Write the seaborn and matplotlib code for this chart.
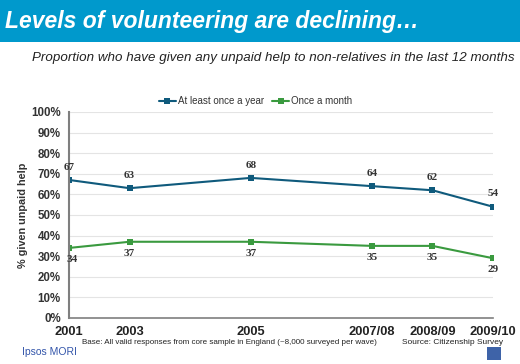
import matplotlib
matplotlib.use('Agg')
import matplotlib.pyplot as plt
import seaborn as sns
import pandas as pd
from matplotlib.patches import Rectangle

# waves of the Citizenship Survey
waves = ['2001', '2003', '2005', '2007/08', '2008/09', '2009/10']
wave_pos = [0, 1, 3, 5, 6, 7]  # spacing used on the original time axis
yearly = [67, 63, 68, 64, 62, 54]
monthly = [34, 37, 37, 35, 35, 29]
series_names = ['At least once a year', 'Once a month']

df = pd.DataFrame({
    'pos': wave_pos * 2,
    'value': yearly + monthly,
    'series': [series_names[0]] * len(waves) + [series_names[1]] * len(waves),
})

sns.set_theme(style='whitegrid')
plt.rcParams['font.family'] = ['Liberation Sans', 'DejaVu Sans']

blue = '#0F5A7C'
green = '#3A9A3F'

fig = plt.figure(figsize=(5.2, 3.64), dpi=100)
fig.patch.set_facecolor('white')

# title banner
fig.patches.append(Rectangle((0, 0.8846), 1, 0.1154, transform=fig.transFigure,
                             facecolor='#0099CC', edgecolor='none', zorder=0))
fig.text(0.01, 0.942, 'Levels of volunteering are declining\u2026', color='white',
         fontsize=16.5, fontweight='bold', fontstyle='italic', va='center', ha='left')
fig.text(0.99, 0.84, 'Proportion who have given any unpaid help to non-relatives in the last 12 months',
         color='#222222', fontsize=9.6, fontstyle='italic', va='center', ha='right')

ax = fig.add_axes([0.1327, 0.1264, 0.8154, 0.566])
sns.lineplot(data=df, x='pos', y='value', hue='series', palette=[blue, green],
             marker='s', markersize=4, markeredgewidth=0, linewidth=1.5, ax=ax)

ax.set_xlim(wave_pos[0], wave_pos[-1])
ax.set_ylim(0, 100)
ax.set_yticks(range(0, 101, 10))
ax.set_yticklabels([f'{v}%' for v in range(0, 101, 10)], fontsize=8.3,
                   fontweight='bold', color='#333333')
ax.set_xticks(wave_pos)
ax.set_xticklabels(waves, fontsize=9.3, fontweight='bold', color='#222222')
ax.tick_params(axis='both', length=0)
ax.tick_params(axis='y', pad=6)
ax.tick_params(axis='x', pad=6)
ax.xaxis.grid(False)
ax.yaxis.grid(True, color='#E4E4E4', linewidth=0.8)
ax.set_facecolor('white')
for side in ['top', 'right']:
    ax.spines[side].set_visible(False)
ax.spines['left'].set_color('#7F7F7F')
ax.spines['left'].set_linewidth(1.5)
ax.spines['bottom'].set_color('#7F7F7F')
ax.spines['bottom'].set_linewidth(1.2)
ax.set_xlabel('')
ax.set_ylabel('% given unpaid help', fontsize=7.8, fontweight='bold', color='#333333', labelpad=2)

# point labels
for i, (x, v) in enumerate(zip(wave_pos, yearly)):
    ax.annotate(str(v), (x, v), xytext=(0, 6), textcoords='offset points', ha='center',
                va='bottom', fontsize=8, fontweight='bold', color='#333333',
                family='Liberation Serif', clip_on=False)
for i, (x, v) in enumerate(zip(wave_pos, monthly)):
    dx = 2 if i == 0 else 0
    ax.annotate(str(v), (x, v), xytext=(dx, -5), textcoords='offset points', ha='center',
                va='top', fontsize=8, fontweight='bold', color='#333333',
                family='Liberation Serif', clip_on=False)

leg = ax.legend(loc='lower center', bbox_to_anchor=(0.44, 1.01), ncol=2, frameon=False,
                fontsize=7, handlelength=1.8, columnspacing=0.8, handletextpad=0.2,
                borderaxespad=0)
for t in leg.get_texts():
    t.set_color('#333333')

fig.text(0.158, 0.06, 'Base: All valid responses from core sample in England (~8,000 surveyed per wave)',
         fontsize=5.8, color='#222222', va='center')
fig.text(0.773, 0.06, 'Source: Citizenship Survey', fontsize=6, color='#222222', va='center')
fig.text(0.042, 0.033, 'Ipsos MORI', fontsize=7.5, color='#3355AA', va='center')
fig.patches.append(Rectangle((0.937, 0.011), 0.026, 0.037, transform=fig.transFigure,
                             facecolor='#3E63A8', edgecolor='none'))

fig.savefig('out.png', dpi=100)
